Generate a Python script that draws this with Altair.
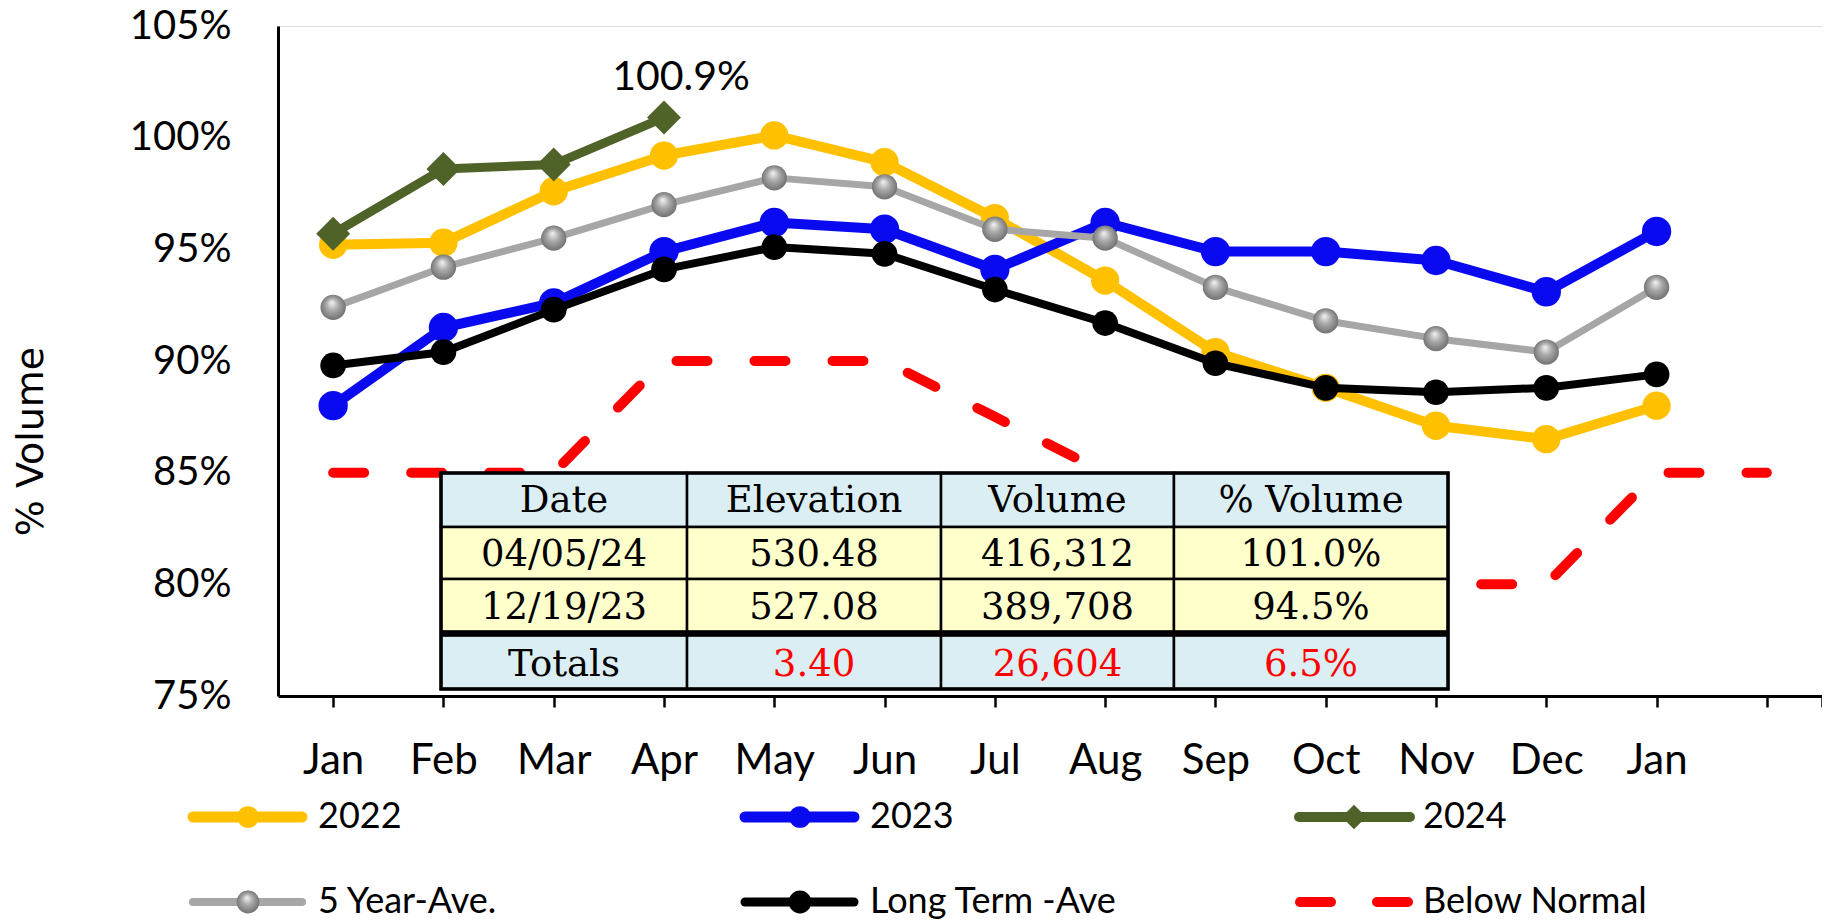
import json
import altair as alt
import pandas as pd

# ---------------- data ----------------
months = ["Jan", "Feb", "Mar", "Apr", "May", "Jun", "Jul", "Aug", "Sep", "Oct", "Nov", "Dec", "Jan"]
vals_2022 = [95.2, 95.3, 97.6, 99.2, 100.1, 98.9, 96.4, 93.6, 90.4, 88.8, 87.1, 86.5, 88.0]
vals_2023 = [88.0, 91.5, 92.6, 94.9, 96.2, 95.9, 94.1, 96.2, 94.9, 94.9, 94.5, 93.1, 95.8]
vals_2024 = [95.7, 98.6, 98.8, 100.9]
vals_5yr = [92.4, 94.2, 95.5, 97.0, 98.2, 97.8, 95.9, 95.5, 93.3, 91.8, 91.0, 90.4, 93.3]
vals_long = [89.8, 90.4, 92.3, 94.1, 95.1, 94.8, 93.2, 91.7, 89.9, 88.8, 88.6, 88.8, 89.4]
vals_below = [85, 85, 85, 90, 90, 90, 87.5, 85, 82.5, 80, 80, 80, 85, 85]

series_names = ["2022", "2023", "2024", "5 Year-Ave.", "Long Term -Ave", "Below Normal"]
label_2024 = "100.9%"
y_ticks = [75, 80, 85, 90, 95, 100, 105]

table_header = ["Date", "Elevation", "Volume", "% Volume"]
table_row1 = ["04/05/24", "530.48", "416,312", "101.0%"]
table_row2 = ["12/19/23", "527.08", "389,708", "94.5%"]
table_totals = ["Totals", "3.40", "26,604", "6.5%"]

# ---------------- layout / style (not data) ----------------
W, H = 1544, 670
col_edges = [0.978, 3.209, 5.512, 7.624, 10.109]          # in month-index units
row_edges = [84.98, 82.57, 80.24, 77.87]                  # in % units
tot_edges = [77.73, 75.31]
text_rows_y = [83.75, 81.3, 78.95, 76.4]

YELLOW, BLUE, GREEN, GRAY, BLACK, RED = "#FFC000", "#0A0AF0", "#4F6228", "#A6A6A6", "#000000", "#FF0000"
GRAY_GRAD = {
    "gradient": "radial",
    "x1": 0.45, "y1": 0.3, "r1": 0.0,
    "x2": 0.5, "y2": 0.5, "r2": 0.55,
    "stops": [
        {"offset": 0.0, "color": "#f4f4f4"},
        {"offset": 0.45, "color": "#a8a8a8"},
        {"offset": 1.0, "color": "#6a6a6a"},
    ],
}

x_scale = alt.Scale(domain=[-0.5, 13.5], nice=False, zero=False)
y_scale = alt.Scale(domain=[75, 105], nice=False, zero=False)

label_expr = "datum.value > 12.5 ? '' : " + json.dumps(months) + "[datum.value]"

x_axis = alt.Axis(
    values=list(range(14)) + [13.5], labelExpr=label_expr, title=None, grid=False,
    domainColor="black", domainWidth=3, tickColor="black", tickWidth=2.5, tickSize=11,
    labelPadding=33, labelFont="Lato", labelFontSize=42, labelColor="black",
    labelBaseline="top", labelAngle=0, labelOverlap=False, labelFlush=False,
)
y_axis = alt.Axis(
    values=y_ticks, labelExpr="datum.value + '%'", title="% Volume",
    titleFont="DejaVu Sans", titleFontSize=38, titleFontWeight="normal", titleColor="black",
    titleX=-247, titleY=415, titleAngle=-90, titleAlign="center", titleBaseline="middle",
    ticks=False, tickSize=0, labelPadding=47, labelFont="Lato", labelFontSize=40,
    labelColor="black", grid=False, domainColor="black", domainWidth=3,
)


def sdf(vals):
    return pd.DataFrame({"idx": list(range(len(vals))), "value": vals})


def line_layer(vals, color, width, first=False, dash=None):
    kw = dict(color=color, strokeWidth=width, strokeJoin="round", strokeCap="round")
    if dash:
        kw["strokeDash"] = dash
    if first:
        enc = dict(x=alt.X("idx:Q", scale=x_scale, axis=x_axis),
                   y=alt.Y("value:Q", scale=y_scale, axis=y_axis))
    else:
        enc = dict(x=alt.X("idx:Q", scale=x_scale), y=alt.Y("value:Q", scale=y_scale))
    return alt.Chart(sdf(vals)).mark_line(**kw).encode(**enc)


def point_layer(vals, fill, size, shape="circle"):
    return alt.Chart(sdf(vals)).mark_point(
        filled=True, fill=fill, shape=shape, size=size, opacity=1, strokeWidth=0
    ).encode(x=alt.X("idx:Q", scale=x_scale), y=alt.Y("value:Q", scale=y_scale))


layers = []
layers.append(line_layer(vals_2022, YELLOW, 10, first=True))
layers.append(point_layer(vals_2022, YELLOW, 800))
layers.append(line_layer(vals_2023, BLUE, 10))
layers.append(point_layer(vals_2023, BLUE, 860))
layers.append(line_layer(vals_2024, GREEN, 9))
layers.append(point_layer(vals_2024, GREEN, 1150, "diamond"))
layers.append(line_layer(vals_5yr, GRAY, 7))
layers.append(point_layer(vals_5yr, GRAY_GRAD, 640))
layers.append(line_layer(vals_long, BLACK, 8))
layers.append(point_layer(vals_long, BLACK, 660))
layers.append(line_layer(vals_below, RED, 10, dash=[31, 47]))

# data label for last 2024 point
lab_df = pd.DataFrame({"idx": [len(vals_2024) - 1], "value": [vals_2024[-1]], "t": [label_2024]})
layers.append(
    alt.Chart(lab_df).mark_text(font="Lato", fontSize=41, color="black", dx=17, dy=-40,
                                baseline="middle", align="center")
    .encode(x=alt.X("idx:Q", scale=x_scale), y=alt.Y("value:Q", scale=y_scale), text="t:N")
)

# ---------------- table ----------------
rows = [table_header, table_row1, table_row2, table_totals]
cells = []
texts = []
for r, row in enumerate(rows):
    if r < 3:
        y1, y2 = row_edges[r], row_edges[r + 1]
    else:
        y1, y2 = tot_edges[0], tot_edges[1]
    fill = "#DAEEF3" if r in (0, 3) else "#FFFFCC"
    for c, txt in enumerate(row):
        cells.append({"x": col_edges[c], "x2": col_edges[c + 1], "y": y1, "y2": y2, "fill": fill})
        color = RED if (r == 3 and c > 0) else "black"
        texts.append({"xc": (col_edges[c] + col_edges[c + 1]) / 2, "yc": text_rows_y[r],
                      "t": txt, "color": color})
cells_df = pd.DataFrame(cells)
texts_df = pd.DataFrame(texts)

layers.append(
    alt.Chart(cells_df).mark_rect(stroke="black", strokeWidth=2.5)
    .encode(x=alt.X("x:Q", scale=x_scale), x2="x2:Q",
            y=alt.Y("y:Q", scale=y_scale), y2="y2:Q",
            fill=alt.Fill("fill:N", scale=None))
)
outer_df = pd.DataFrame([
    {"x": col_edges[0], "x2": col_edges[-1], "y": row_edges[0], "y2": row_edges[-1]},
    {"x": col_edges[0], "x2": col_edges[-1], "y": tot_edges[0], "y2": tot_edges[1]},
])
layers.append(
    alt.Chart(outer_df).mark_rect(fill=None, fillOpacity=0, stroke="black", strokeWidth=3.5)
    .encode(x=alt.X("x:Q", scale=x_scale), x2="x2:Q",
            y=alt.Y("y:Q", scale=y_scale), y2="y2:Q")
)
layers.append(
    alt.Chart(texts_df).mark_text(font="DejaVu Serif", fontSize=37, baseline="middle", align="center")
    .encode(x=alt.X("xc:Q", scale=x_scale), y=alt.Y("yc:Q", scale=y_scale), text="t:N",
            color=alt.Color("color:N", scale=None))
)

# ---------------- legend (drawn manually, pixel layout relative to plot) ----------------
leg_cols = [(-89, 28, -30, 40), (463, 580, 522, 592), (1017, 1136, 1076, 1145)]
leg_rows = [791, 876]
leg_style = [
    (YELLOW, 11, YELLOW, "circle", 470, None),
    (BLUE, 11, BLUE, "circle", 470, None),
    (GREEN, 10, GREEN, "diamond", 600, None),
    (GRAY, 8, GRAY_GRAD, "circle", 520, None),
    (BLACK, 9, BLACK, "circle", 520, None),
    (RED, 10, None, None, None, [31, 46]),
]
for i, name in enumerate(series_names):
    cx0, cx1, mx, tx = leg_cols[i % 3]
    yy = leg_rows[i // 3]
    color, sw, mfill, shape, msize, dash = leg_style[i]
    one = pd.DataFrame({"t": [name]})
    rk = dict(color=color, strokeWidth=sw, strokeCap="round")
    if dash:
        rk["strokeDash"] = dash
        x0, x1 = cx0 + 5, cx1 - 5
    else:
        x0, x1 = cx0 + 4, cx1 - 4
    layers.append(alt.Chart(one).mark_rule(**rk).encode(
        x=alt.value(x0), x2=alt.value(x1), y=alt.value(yy)))
    if shape:
        layers.append(alt.Chart(one).mark_point(filled=True, fill=mfill, shape=shape, size=msize,
                                                opacity=1, strokeWidth=0)
                      .encode(x=alt.value(mx), y=alt.value(yy)))
    layers.append(alt.Chart(one).mark_text(font="Lato", fontSize=36, color="black",
                                           align="left", baseline="middle")
                  .encode(x=alt.value(tx), y=alt.value(yy), text="t:N"))

chart = alt.layer(*layers).properties(
    width=W, height=H,
    autosize=alt.AutoSizeParams(type="none"),
    padding={"left": 270, "top": 18, "right": 0, "bottom": 225},
).configure_view(stroke=None).configure(background="white")

chart.save("out.html", embed_options={"renderer": "svg", "actions": False})
